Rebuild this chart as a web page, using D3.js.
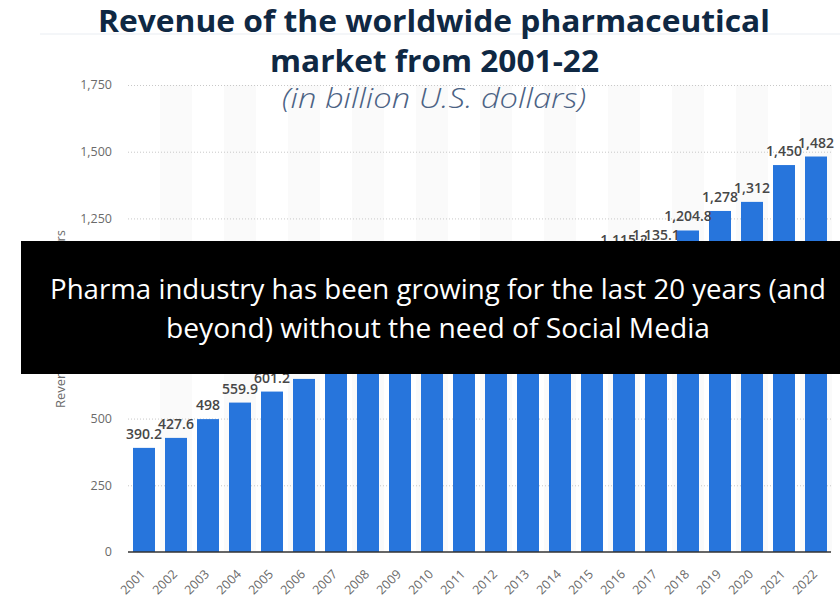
<!DOCTYPE html>
<html>
<head>
<meta charset="utf-8">
<script src="https://cdn.jsdelivr.net/npm/d3@7"></script>
<style>
  html, body { margin: 0; padding: 0; background: #ffffff; }
  svg { display: block; }
</style>
</head>
<body>
<svg id="chart" width="840" height="603"></svg>
<script>
// ---- data ----
const years = ["2001","2002","2003","2004","2005","2006","2007","2008","2009","2010","2011",
               "2012","2013","2014","2015","2016","2017","2018","2019","2020","2021","2022"];
const revenue = [390.2, 427.6, 498, 559.9, 601.2, 648.6, 715.4, 791.8, 808.5, 888, 956.1,
                 962.1, 984, 1057.1, 1068.8, 1115.2, 1135.1, 1204.8, 1278, 1312, 1450, 1482];
const yTicks = [0, 250, 500, 750, 1000, 1250, 1500, 1750];
const titleLines = ["Revenue of the worldwide pharmaceutical", "market from 2001-22"];
const subtitle = "(in billion U.S. dollars)";
const yAxisTitle = "Revenue in billion U.S. dollars";
const overlayLines = ["Pharma industry has been growing for the last 20 years (and",
                      "beyond) without the need of Social Media"];

const svg = d3.select("#chart");
const font = "'Open Sans', 'Noto Sans', sans-serif";

const x = d3.scaleBand().domain(years).range([128, 832]).paddingInner(0.3125).paddingOuter(0.15625);
const y = d3.scaleLinear().domain([0, 1750]).range([552, 85]);

// top frame line
svg.append("line").attr("x1", 40).attr("x2", 840).attr("y1", 34).attr("y2", 34)
  .attr("stroke", "#e9edf2").attr("stroke-width", 1);

// alternating column stripes
svg.append("g").selectAll("rect").data(years.filter((d, i) => i % 2 === 1)).join("rect")
  .attr("x", d => x(d) - x.step() * x.paddingInner() / 2)
  .attr("width", x.step())
  .attr("y", y(1750))
  .attr("height", y(0) - y(1750))
  .attr("fill", "#fafafa");

// grid lines
svg.append("g").selectAll("line").data(yTicks.filter(t => t > 0)).join("line")
  .attr("x1", 128).attr("x2", 831)
  .attr("y1", d => y(d) + 0.5).attr("y2", d => y(d) + 0.5)
  .attr("stroke", "#c8c8c8").attr("stroke-width", 1).attr("stroke-dasharray", "1,2");

// y tick labels
svg.append("g").selectAll("text").data(yTicks).join("text")
  .attr("x", 112).attr("y", d => y(d)).attr("dy", "0.35em")
  .attr("text-anchor", "end")
  .attr("font-family", font).attr("font-size", 12.5).attr("fill", "#6a6a6a")
  .text(d => d3.format(",")(d));

// y axis title
svg.append("text")
  .attr("transform", "translate(65,319) rotate(-90)")
  .attr("text-anchor", "middle")
  .attr("font-family", font).attr("font-size", 12.5).attr("fill", "#6a6a6a")
  .attr("textLength", 178).attr("lengthAdjust", "spacingAndGlyphs")
  .text(yAxisTitle);

// bars
svg.append("g").selectAll("rect").data(years).join("rect")
  .attr("x", d => x(d))
  .attr("width", x.bandwidth())
  .attr("y", (d, i) => y(revenue[i]))
  .attr("height", (d, i) => y(0) - y(revenue[i]))
  .attr("fill", "#2775dc");

// value labels
svg.append("g").selectAll("text").data(years).join("text")
  .attr("x", d => x(d) + x.bandwidth() / 2)
  .attr("y", (d, i) => y(revenue[i]) - 9)
  .attr("text-anchor", "middle")
  .attr("font-family", font).attr("font-size", 14).attr("font-weight", 600).attr("fill", "#474747")
  .text((d, i) => d3.format(",")(revenue[i]));

// baseline
svg.append("line").attr("x1", 128).attr("x2", 831).attr("y1", y(0)).attr("y2", y(0))
  .attr("stroke", "#333333").attr("stroke-width", 1.5);

// x labels
svg.append("g").selectAll("text").data(years).join("text")
  .attr("transform", d => `translate(${x(d) + x.bandwidth() / 2 + 2},575) rotate(-45)`)
  .attr("text-anchor", "end")
  .attr("font-family", font).attr("font-size", 12.5).attr("fill", "#6a6a6a")
  .text(d => d);

// title
svg.append("text").attr("x", 434).attr("y", 32).attr("text-anchor", "middle")
  .attr("font-family", font).attr("font-size", 31).attr("font-weight", 700).attr("fill", "#0f2843")
  .attr("textLength", 672).attr("lengthAdjust", "spacingAndGlyphs")
  .text(titleLines[0]);
svg.append("text").attr("x", 434.5).attr("y", 72).attr("text-anchor", "middle")
  .attr("font-family", font).attr("font-size", 31).attr("font-weight", 700).attr("fill", "#0f2843")
  .attr("textLength", 329).attr("lengthAdjust", "spacingAndGlyphs")
  .text(titleLines[1]);
svg.append("text").attr("x", 434).attr("y", 108).attr("text-anchor", "middle")
  .attr("font-family", font).attr("font-size", 27).attr("font-style", "italic").attr("font-weight", 300)
  .attr("fill", "#4b6284")
  .attr("textLength", 304).attr("lengthAdjust", "spacingAndGlyphs")
  .text(subtitle);

// black overlay box
svg.append("rect").attr("x", 21).attr("y", 241).attr("width", 819).attr("height", 133).attr("fill", "#000000");
const overlayLens = [776, 544];
svg.append("g").selectAll("text").data(overlayLines).join("text")
  .attr("x", 438).attr("y", (d, i) => 299 + i * 39)
  .attr("text-anchor", "middle")
  .attr("font-family", font).attr("font-size", 28).attr("fill", "#ffffff")
  .attr("textLength", (d, i) => overlayLens[i]).attr("lengthAdjust", "spacingAndGlyphs")
  .text(d => d);
</script>
</body>
</html>
